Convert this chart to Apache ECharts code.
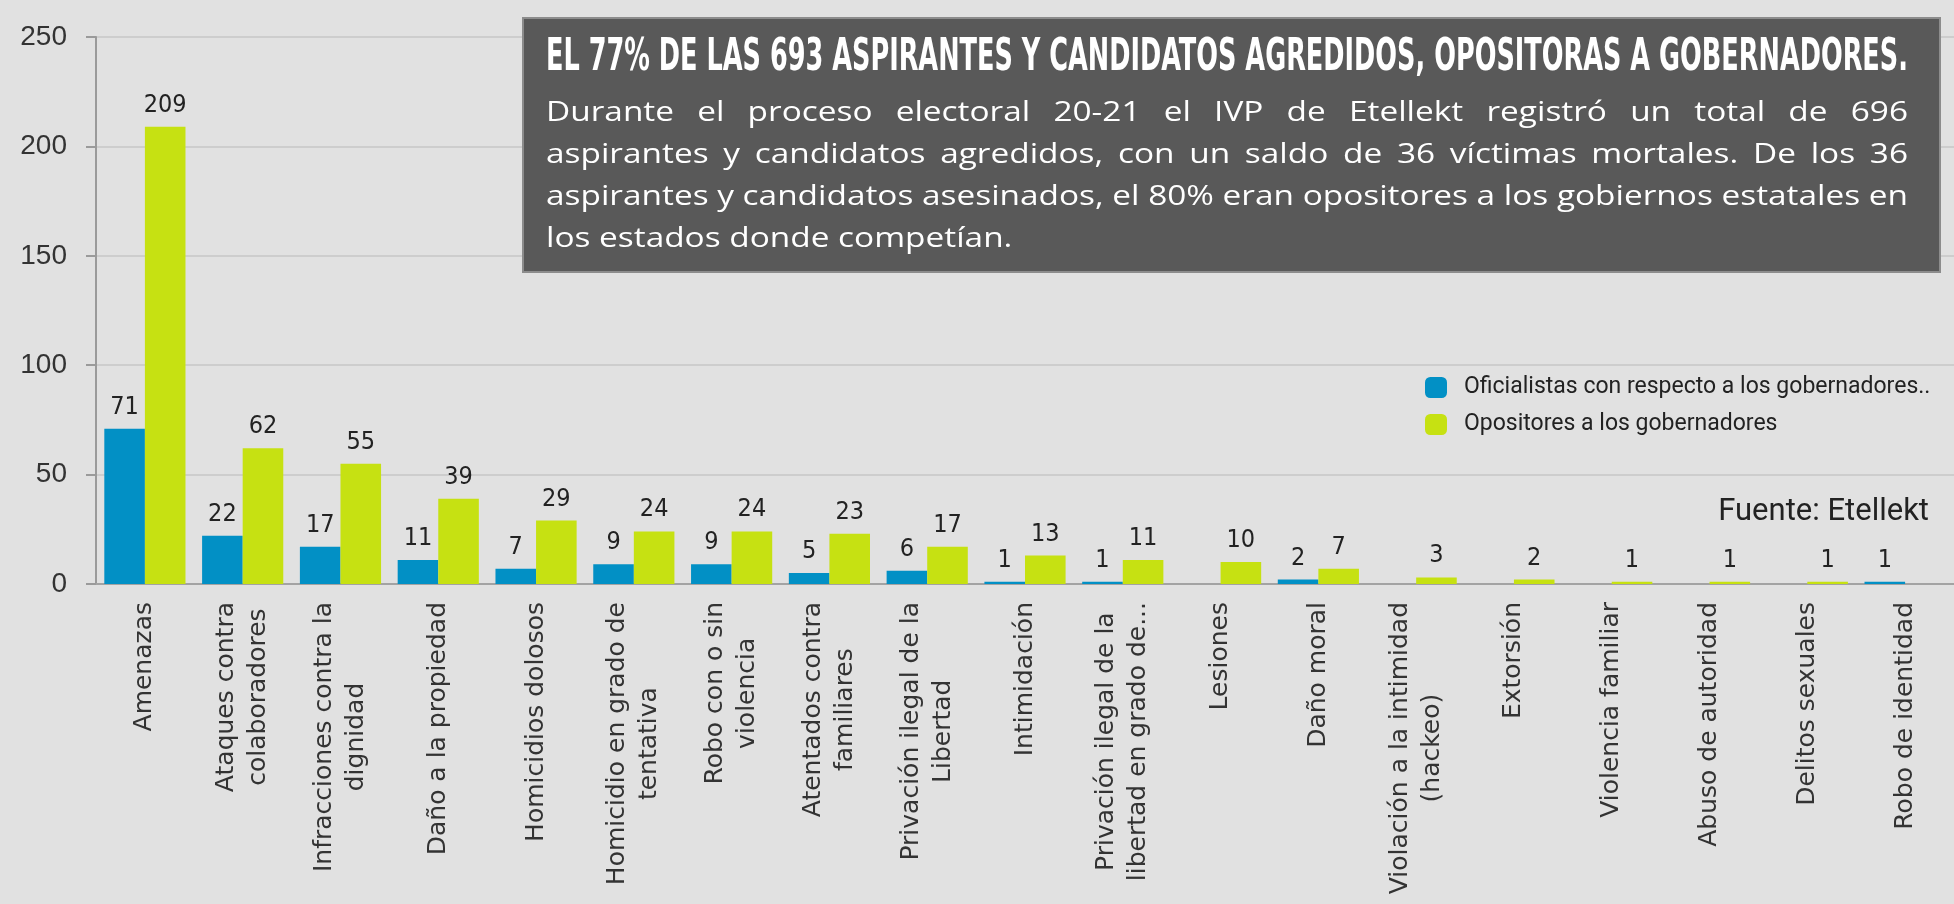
<!DOCTYPE html>
<html>
<head>
<meta charset="utf-8">
<script src="https://cdn.jsdelivr.net/npm/echarts@6/dist/echarts.min.js"></script>
<style>
  html, body { margin: 0; padding: 0; background: #e1e1e1; }
  #chart { width: 1954px; height: 904px; }
</style>
</head>
<body>
<div id="chart"></div>
<script>
const categories = [
  'Amenazas', 'Ataques contra\ncolaboradores', 'Infracciones contra la\ndignidad',
  'Daño a la propiedad', 'Homicidios dolosos', 'Homicidio en grado de\ntentativa',
  'Robo con o sin\nviolencia', 'Atentados contra\nfamiliares', 'Privación ilegal de la\nLibertad',
  'Intimidación', 'Privación ilegal de la\nlibertad en grado de...', 'Lesiones', 'Daño moral',
  'Violación a la intimidad\n(hackeo)', 'Extorsión', 'Violencia familiar', 'Abuso de autoridad',
  'Delitos sexuales', 'Robo de identidad'
]
const oficialistas = [71, 22, 17, 11, 7, 9, 9, 5, 6, 1, 1, null, 2, null, null, null, null, null, 1]
const opositores = [209, 62, 55, 39, 29, 24, 24, 23, 17, 13, 11, 10, 7, 3, 2, 1, 1, 1, null]
const yTicks = [0, 50, 100, 150, 200, 250]

const titleText = 'EL 77% DE LAS 693 ASPIRANTES Y CANDIDATOS AGREDIDOS, OPOSITORAS A GOBERNADORES.'
const bodyLines = [
  'Durante el proceso electoral 20-21 el IVP de Etellekt registró un total de 696',
  'aspirantes y candidatos agredidos, con un saldo de 36 víctimas mortales. De los 36',
  'aspirantes y candidatos asesinados, el 80% eran opositores a los gobiernos estatales en',
  'los estados donde competían.'
]

const ctx = document.createElement('canvas').getContext('2d')
function measure(text, font) {
  ctx.font = font
  return ctx.measureText(text).width
}

// text box built from words so lines can be justified
const boxX = 523, boxY = 18, boxW = 1417, boxH = 254
const textX = 546, textW = 1362
const titleFont = 'bold 40px "Liberation Sans Narrow", "DejaVu Sans Condensed", sans-serif'
const bodyFont = '27px "Open Sans", sans-serif'

function buildBox() {
  const els = [{
    type: 'rect', shape: { x: boxX, y: boxY, width: boxW, height: boxH },
    style: { fill: '#595959', stroke: '#8c8c8c', lineWidth: 2 }, z: 10
  }]
  const tw = measure(titleText, titleFont)
  els.push({
    type: 'text', x: textX, y: 59, scaleX: textW / tw, scaleY: 1.1, z: 11,
    style: { text: titleText, font: titleFont, fill: '#ffffff',
      align: 'left', textAlign: 'left', verticalAlign: 'middle', textVerticalAlign: 'middle' }
  })
  const k = textW / measure(bodyLines[2], bodyFont)
  const space = measure(' ', bodyFont) * k
  bodyLines.forEach((line, li) => {
    const words = line.split(' ')
    const ws = words.map(w => measure(w, bodyFont) * k)
    const sum = ws.reduce((a, b) => a + b, 0)
    const last = li === bodyLines.length - 1
    const gap = last ? space : (textW - sum) / (words.length - 1)
    let x = textX
    words.forEach((w, i) => {
      els.push({
        type: 'text', x: x, y: 113 + li * 42, scaleX: k, z: 11,
        style: { text: w, font: bodyFont, fill: '#ffffff',
          align: 'left', textAlign: 'left', verticalAlign: 'middle', textVerticalAlign: 'middle' }
      })
      x += ws[i] + gap
    })
  })
  els.push({
    type: 'text', x: 1929, y: 512, z: 11,
    style: { text: 'Fuente: Etellekt', font: '31px Roboto, sans-serif', fill: '#222',
      align: 'right', textAlign: 'right', verticalAlign: 'middle', textVerticalAlign: 'middle' }
  })
  return els
}

const chart = echarts.init(document.getElementById('chart'))

const barLabel = {
  show: true,
  position: 'top',
  distance: 9,
  color: '#222',
  fontSize: 25,
  fontFamily: '"Liberation Sans Narrow", "DejaVu Sans Condensed", sans-serif'
}

const option = {
  backgroundColor: '#e1e1e1',
  animation: false,
  grid: { left: 96, right: -16, top: 37, bottom: 320, containLabel: false },
  legend: {
    orient: 'vertical',
    left: 1420,
    top: 371,
    itemWidth: 22,
    itemHeight: 21,
    itemGap: 14,
    icon: 'roundRect',
    textStyle: { fontSize: 23, color: '#222', fontFamily: 'Roboto, sans-serif', padding: [0, 0, 0, 12] }
  },
  xAxis: {
    type: 'category',
    data: categories,
    axisLine: { lineStyle: { color: '#a3a3a3', width: 2 } },
    axisTick: { length: 10, lineStyle: { color: '#a3a3a3', width: 2 } },
    axisLabel: {
      interval: 0,
      rotate: 90,
      margin: 18,
      color: '#333',
      fontSize: 25,
      fontFamily: '"DejaVu Sans", sans-serif',
      lineHeight: 32,
      formatter: v => v.split('\n').map(s => '{c|' + s + '}').join('\n'),
      rich: { c: { align: 'center', fontSize: 25, lineHeight: 32, color: '#333', fontFamily: '"DejaVu Sans", sans-serif' } }
    }
  },
  yAxis: {
    type: 'value',
    min: yTicks[0],
    max: yTicks[yTicks.length - 1],
    interval: 50,
    axisLine: { show: true, lineStyle: { color: '#9a9a9a', width: 2 } },
    axisTick: { show: true, length: 10, lineStyle: { color: '#9a9a9a', width: 2 } },
    axisLabel: { margin: 29, color: '#333', fontSize: 28, fontFamily: '"Liberation Sans", Arial, sans-serif' },
    splitLine: { lineStyle: { color: '#cdcdcd', width: 2 } }
  },
  series: [
    {
      name: 'Oficialistas con respecto a los gobernadores..',
      type: 'bar',
      data: oficialistas,
      barGap: '0%',
      barCategoryGap: '17%',
      itemStyle: { color: '#0290c5' },
      label: barLabel
    },
    {
      name: 'Opositores a los gobernadores',
      type: 'bar',
      data: opositores,
      barGap: '0%',
      barCategoryGap: '17%',
      itemStyle: { color: '#c6e112' },
      label: barLabel
    }
  ],
  graphic: buildBox()
}

chart.setOption(option)
</script>
</body>
</html>
